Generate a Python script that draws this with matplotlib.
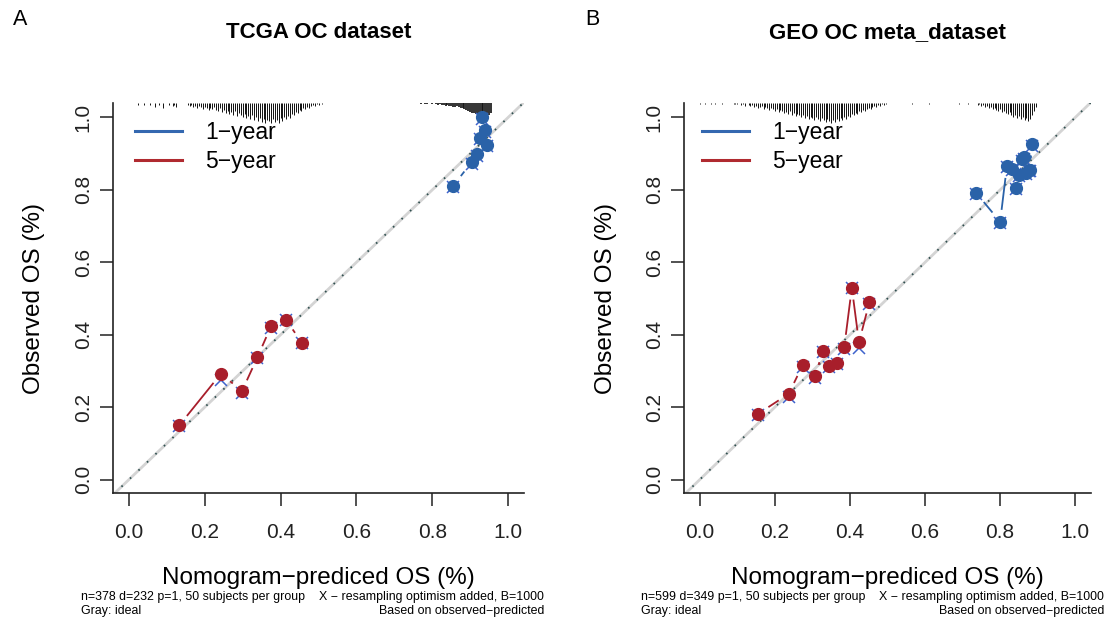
import numpy as np
import matplotlib
matplotlib.use('Agg')
import matplotlib.pyplot as plt
from matplotlib.lines import Line2D

plt.rcParams['font.family'] = ['Liberation Sans', 'DejaVu Sans']

# ---- calibration data (predicted, observed, bias-corrected) ----
a1_pred = [0.856, 0.904, 0.917, 0.926, 0.930, 0.939, 0.945]
a1_obs = [0.812, 0.877, 0.898, 0.944, 1.000, 0.965, 0.925]
a1_cor = [0.808, 0.872, 0.893, 0.940, 0.995, 0.960, 0.921]

a5_pred = [0.133, 0.243, 0.298, 0.339, 0.375, 0.414, 0.456]
a5_obs = [0.150, 0.293, 0.244, 0.338, 0.424, 0.442, 0.378]
a5_cor = [0.148, 0.276, 0.240, 0.336, 0.420, 0.440, 0.376]

b1_pred = [0.736, 0.800, 0.818, 0.832, 0.843, 0.849, 0.858, 0.864, 0.870, 0.876, 0.880, 0.884]
b1_obs = [0.792, 0.712, 0.866, 0.858, 0.806, 0.842, 0.885, 0.890, 0.848, 0.856, 0.854, 0.928]
b1_cor = [0.790, 0.708, 0.862, 0.855, 0.802, 0.838, 0.881, 0.886, 0.845, 0.852, 0.851, 0.920]

b5_pred = [0.156, 0.237, 0.274, 0.307, 0.328, 0.345, 0.365, 0.385, 0.405, 0.424, 0.452]
b5_obs = [0.182, 0.237, 0.316, 0.285, 0.356, 0.315, 0.322, 0.367, 0.530, 0.379, 0.491]
b5_cor = [0.178, 0.228, 0.312, 0.280, 0.352, 0.311, 0.318, 0.362, 0.528, 0.364, 0.484]

# ---- distribution of predicted values (rug at top), bins of 0.005 ----
a_rug_left_start = 0.020
a_rug_left = [0, 2, 0, 0, 2, 0, 0, 2, 0, 0,
              4, 0, 2, 0, 5, 0, 0, 2, 0, 3,
              2, 4, 0, 0, 0, 0, 0, 2, 3, 2,
              4, 3, 5, 3, 4, 6, 4, 5, 7, 5,
              6, 4, 7, 8, 5, 9, 7, 10, 8, 11,
              9, 12, 8, 13, 10, 12, 14, 11, 15, 13,
              16, 12, 17, 14, 18, 15, 19, 16, 20, 17,
              18, 20, 16, 19, 17, 20, 15, 18, 14, 16,
              13, 15, 11, 12, 9, 10, 7, 8, 5, 6,
              4, 5, 3, 2, 3, 1, 2, 0, 1, 0]
a_rug_right_start = 0.770
a_rug_right = [1, 0, 1, 1, 0, 0, 1, 0, 1, 2,
               1, 2, 2, 3, 2, 3, 3, 4, 4, 3,
               4, 5, 5, 6, 7, 8, 9, 10, 10, 11,
               12, 13, 15, 17, 19, 14, 12, 10]

b_rug_left_start = 0.000
b_rug_left = [1, 0, 0, 1, 0, 0, 1, 0, 1, 0,
              0, 0, 1, 0, 0, 0, 0, 0, 1, 1,
              1, 0, 2, 1, 3, 0, 2, 3, 2, 4,
              3, 5, 4, 3, 6, 4, 5, 7, 5, 6,
              8, 6, 9, 7, 8, 10, 9, 11, 8, 12,
              10, 13, 11, 12, 14, 12, 15, 13, 16, 14,
              15, 17, 14, 16, 18, 15, 17, 19, 16, 18,
              20, 17, 19, 16, 18, 15, 17, 14, 16, 13,
              14, 11, 12, 10, 11, 8, 9, 7, 8, 6,
              5, 6, 4, 3, 4, 2, 3, 1, 2, 1]
b_rug_mid_x = [0.565, 0.610, 0.690, 0.715]
b_rug_mid = [1, 1, 1, 1]
b_rug_right_start = 0.740
b_rug_right = [2, 1, 3, 2, 4, 3, 5, 4, 6, 5,
               7, 8, 6, 9, 8, 10, 11, 9, 12, 14,
               12, 15, 13, 16, 14, 17, 15, 18, 16, 12,
               8, 4]

BLUE = '#2A62A8'
RED = '#A81E2B'
XBLUE = '#3E63CC'
XLIM = (-0.042, 1.042)
YLIM = (-0.037, 1.04)
RUG_SCALE = 1 / 362.0


def gapped_line(ax, x, y, color, gap=12.0):
    # lines between points with gaps around each point (like R type="b")
    pts = ax.transData.transform(np.column_stack([x, y]))
    inv = ax.transData.inverted()
    for p0, p1 in zip(pts[:-1], pts[1:]):
        d = p1 - p0
        L = np.hypot(*d)
        if L <= 2 * gap:
            continue
        u = d / L
        q = inv.transform(np.array([p0 + u * gap, p1 - u * gap]))
        ax.plot(q[:, 0], q[:, 1], color=color, lw=1.3, solid_capstyle='butt', zorder=3)


def rug(ax, xs, counts, lw):
    xs = np.asarray(xs)
    h = np.asarray(counts) * RUG_SCALE
    m = h > 0
    ax.vlines(xs[m], YLIM[1] - h[m], YLIM[1], color='#111111', lw=lw, zorder=2)


def panel(ax, title, rugs, d1, d5, legend_x):
    ax.set_xlim(*XLIM)
    ax.set_ylim(*YLIM)
    for start, counts, lw in rugs:
        if np.isscalar(start):
            xs = start + 0.005 * np.arange(len(counts))
        else:
            xs = start
        rug(ax, xs, counts, lw)
    # ideal line
    ax.plot(XLIM, XLIM, color='#d4d4d4', lw=2.0, zorder=1)
    ax.plot(XLIM, XLIM, color='#2f4f4f', lw=1.3, dashes=(0.9, 5.6), zorder=1.5)
    for (px, obs, cor), col in ((d1, BLUE), (d5, RED)):
        ax.plot(px, cor, 'x', color=XBLUE, ms=9, mew=1.1, zorder=3)
        gapped_line(ax, px, obs, col)
        ax.plot(px, obs, 'o', color=col, ms=8.5, mec=col, zorder=4)

    ax.spines['top'].set_visible(False)
    ax.spines['right'].set_visible(False)
    for s in ('left', 'bottom'):
        ax.spines[s].set_linewidth(1.2)
        ax.spines[s].set_color('#222222')
    ticks = [0.0, 0.2, 0.4, 0.6, 0.8, 1.0]
    ax.set_xticks(ticks)
    ax.set_yticks(ticks)
    ax.set_xticklabels(['%.1f' % t for t in ticks])
    ax.set_yticklabels(['%.1f' % t for t in ticks], rotation=90, va='center')
    ax.tick_params(axis='both', length=9.5, width=1.1, color='#222222',
                   labelsize=15, labelcolor='#222222')
    ax.tick_params(axis='x', pad=12)
    ax.tick_params(axis='y', pad=5)
    ax.set_xlabel('Nomogram−prediced OS (%)', fontsize=17.5)
    ax.set_ylabel('Observed OS (%)', fontsize=17.5)
    ax.xaxis.set_label_coords(0.5, -0.19)
    ax.yaxis.set_label_coords(-0.165, 0.5)
    ax.set_title(title, fontsize=16, fontweight='bold', y=1.145)

    handles = [Line2D([0], [0], color='#3468B0', lw=2.2, label='1−year'),
               Line2D([0], [0], color='#B02A30', lw=2.2, label='5−year')]
    ax.legend(handles=handles, loc='upper left', bbox_to_anchor=(legend_x, 0.955),
              frameon=False, borderpad=0, borderaxespad=0, handlelength=2.05,
              handletextpad=1.0, labelspacing=0.3, fontsize=16.5)


fig = plt.figure(figsize=(11.13, 6.28), dpi=100)
axA = fig.add_axes([113 / 1113, 135 / 628, 411 / 1113, 390 / 628])
axB = fig.add_axes([684 / 1113, 135 / 628, 407 / 1113, 390 / 628])

panel(axA, 'TCGA OC dataset',
      [(a_rug_left_start, a_rug_left, 0.7), (a_rug_right_start, a_rug_right, 1.2)],
      (a1_pred, a1_obs, a1_cor), (a5_pred, a5_obs, a5_cor), 0.0535)
panel(axB, 'GEO OC meta_dataset',
      [(b_rug_left_start, b_rug_left, 0.7), (b_rug_mid_x, b_rug_mid, 0.7),
       (b_rug_right_start, b_rug_right, 0.7)],
      (b1_pred, b1_obs, b1_cor), (b5_pred, b5_obs, b5_cor), 0.044)

# panel letters
fig.text(13 / 1113, 1 - 25 / 628, 'A', fontsize=15.5, ha='left', va='baseline')
fig.text(585 / 1113, 1 - 25 / 628, 'B', fontsize=15.5, ha='left', va='baseline')

# footnotes
notes = [(81, 544, 'n=378 d=232 p=1, 50 subjects per group'),
         (641, 1104, 'n=599 d=349 p=1, 50 subjects per group')]
for left, right, txt in notes:
    fig.text(left / 1113, 1 - 597 / 628, txt, fontsize=8.9, ha='left', va='center')
    fig.text(left / 1113, 1 - 611 / 628, 'Gray: ideal', fontsize=8.9, ha='left', va='center')
    fig.text(right / 1113, 1 - 597 / 628, 'X − resampling optimism added, B=1000',
             fontsize=8.9, ha='right', va='center')
    fig.text(right / 1113, 1 - 611 / 628, 'Based on observed−predicted',
             fontsize=8.9, ha='right', va='center')

fig.savefig('out.png', dpi=100)
